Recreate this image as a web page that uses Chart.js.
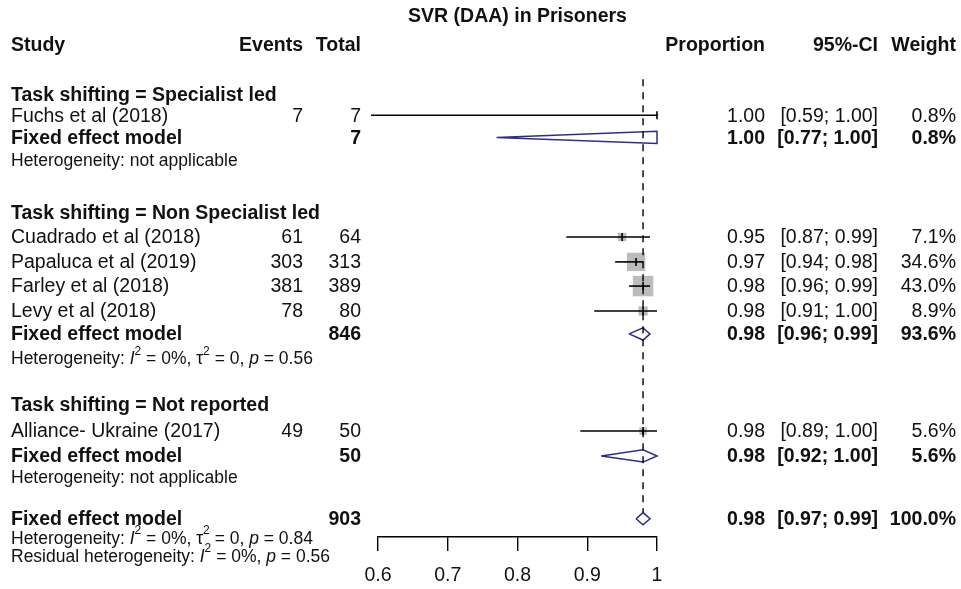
<!DOCTYPE html>
<html>
<head>
<meta charset="utf-8">
<script src="https://cdn.jsdelivr.net/npm/chart.js@4.4.1/dist/chart.umd.min.js"></script>
<style>
  html, body { margin: 0; padding: 0; background: #fff; }
  #wrap { width: 961px; height: 589px; }
</style>
</head>
<body>
<div id="wrap"><canvas id="forest" width="961" height="589"></canvas></div>
<script>
// ---- single studies ----
var studyNames  = ['Fuchs et al (2018)', 'Cuadrado et al (2018)', 'Papaluca et al (2019)',
                   'Farley et al (2018)', 'Levy et al (2018)', 'Alliance- Ukraine (2017)'];
var studyEvents = [7, 61, 303, 381, 78, 49];
var studyTotals = [7, 64, 313, 389, 80, 50];
var studyProp   = [1.00, 0.95, 0.97, 0.98, 0.98, 0.98];
var studyLower  = [0.59, 0.87, 0.94, 0.96, 0.91, 0.89];
var studyUpper  = [1.00, 0.99, 0.98, 0.99, 1.00, 1.00];
var studyWeight = [0.8, 7.1, 34.6, 43.0, 8.9, 5.6];
var studyRow    = [4.72, 9.71, 10.73, 11.72, 12.74, 17.66];

// ---- subgroups ----
var groupTitles = ['Task shifting = Specialist led', 'Task shifting = Non Specialist led',
                   'Task shifting = Not reported'];
var groupRow    = [3.89, 8.73, 16.59];

// ---- pooled estimates (3 subgroups + overall) ----
var pooledTotal  = [7, 846, 50, 903];
var pooledProp   = [1.00, 0.98, 0.98, 0.98];
var pooledLower  = [0.77, 0.96, 0.92, 0.97];
var pooledUpper  = [1.00, 0.99, 1.00, 0.99];
var pooledWeight = [0.8, 93.6, 5.6, 100.0];
var pooledRow    = [5.63, 13.68, 18.68, 21.25];

// ---- heterogeneity lines ----
var hetLabel = ['Heterogeneity', 'Heterogeneity', 'Heterogeneity', 'Heterogeneity', 'Residual heterogeneity'];
var hetI2    = [null, 0, null, 0, 0];
var hetTau2  = [null, 0, null, 0, null];
var hetP     = [null, 0.56, null, 0.84, 0.56];
var hetRow   = [6.58, 14.69, 19.56, 22.04, 22.78];

// ---- axis ----
var xTicks = [0.6, 0.7, 0.8, 0.9, 1];
var refLine = 0.98;   // overall fixed effect estimate

var FONT = "'Liberation Sans', Arial, sans-serif";
var INK = '#111';
var DIAMOND = '#2d2d86';
var HALF_H = 0.25;    // diamond half height, in rows

function boxSide(w) { return 20.5 * Math.sqrt(w / 43); }

var datasets = [];

// grey boxes, area ~ weight
datasets.push({
  data: studyProp.map(function (p, i) { return {x: p, y: studyRow[i]}; }),
  pointStyle: 'rect',
  pointRadius: studyWeight.map(function (w) { return boxSide(w) / Math.SQRT2; }),
  backgroundColor: '#bcbcbc',
  borderWidth: 0,
  clip: false,
  order: 5
});

// confidence intervals
studyNames.forEach(function (n, i) {
  datasets.push({
    data: [{x: studyLower[i], y: studyRow[i]}, {x: studyUpper[i], y: studyRow[i]}],
    showLine: true,
    borderColor: '#000',
    borderWidth: 1.6,
    pointRadius: 0,
    clip: false,
    order: 4
  });
});

// point estimate marks
datasets.push({
  data: studyProp.map(function (p, i) { return {x: p, y: studyRow[i]}; }),
  pointStyle: 'line',
  rotation: 90,
  pointRadius: 4,
  borderColor: '#000',
  borderWidth: 1.6,
  clip: false,
  order: 3
});

// pooled diamonds
pooledProp.forEach(function (p, i) {
  var r = pooledRow[i];
  datasets.push({
    data: [{x: pooledLower[i], y: r}, {x: p, y: r - HALF_H}, {x: pooledUpper[i], y: r},
           {x: p, y: r + HALF_H}, {x: pooledLower[i], y: r}],
    showLine: true,
    borderColor: DIAMOND,
    borderWidth: 1.5,
    pointRadius: 0,
    fill: false,
    clip: false,
    order: 2
  });
});

// dashed reference line at the overall estimate
datasets.push({
  data: [{x: refLine, y: 3.25}, {x: refLine, y: pooledRow[3] - HALF_H}],
  showLine: true,
  borderColor: '#000',
  borderWidth: 1.4,
  borderDash: [7, 6],
  pointRadius: 0,
  order: 1
});

function richText(ctx, segs, x, y, size) {
  var cx = x;
  ctx.textAlign = 'left';
  segs.forEach(function (s) {
    if (s[1] === 's') {
      ctx.font = Math.round(size * 0.7) + 'px ' + FONT;
      ctx.fillText(s[0], cx, y - size * 0.45);
    } else {
      ctx.font = (s[1] === 'i' ? 'italic ' : '') + size + 'px ' + FONT;
      ctx.fillText(s[0], cx, y);
    }
    cx += ctx.measureText(s[0]).width;
  });
}

function hetSegments(i) {
  if (hetI2[i] === null) return [[hetLabel[i] + ': not applicable', 'n']];
  var segs = [[hetLabel[i] + ': ', 'n'], ['I', 'i'], ['2', 's'], [' = ' + hetI2[i] + '%, ', 'n']];
  if (hetTau2[i] !== null) segs.push(['\u03c4', 'n'], ['2', 's'], [' = ' + hetTau2[i] + ', ', 'n']);
  segs.push(['p', 'i'], [' = ' + hetP[i].toFixed(2), 'n']);
  return segs;
}

function ciText(lo, hi) { return '[' + lo.toFixed(2) + '; ' + hi.toFixed(2) + ']'; }

// text columns of the forest plot
var tablePlugin = {
  id: 'forestTable',
  afterDraw: function (chart) {
    var ctx = chart.ctx;
    var ys = chart.scales.y;
    var area = chart.chartArea;
    var col = {study: 11, events: 303, total: 361, prop: 765, ci: 878, weight: 956};
    var size = 19.5, small = 17.5;
    function rowY(r) { return ys.getPixelForValue(r) + 1; }
    function put(t, x, r, align, bold, sz) {
      ctx.font = (bold ? 'bold ' : '') + (sz || size) + 'px ' + FONT;
      ctx.textAlign = align;
      ctx.fillText(t, x, rowY(r));
    }

    ctx.save();
    ctx.fillStyle = INK;
    ctx.textBaseline = 'middle';

    put('SVR (DAA) in Prisoners', (area.left + area.right) / 2, 0.62, 'center', true);
    put('Study', col.study, 1.83, 'left', true);
    put('Events', col.events, 1.83, 'right', true);
    put('Total', col.total, 1.83, 'right', true);
    put('Proportion', col.prop, 1.83, 'right', true);
    put('95%-CI', col.ci, 1.83, 'right', true);
    put('Weight', col.weight, 1.83, 'right', true);

    groupTitles.forEach(function (t, i) { put(t, col.study, groupRow[i], 'left', true); });

    studyNames.forEach(function (n, i) {
      var r = studyRow[i];
      put(n, col.study, r, 'left');
      put(String(studyEvents[i]), col.events, r, 'right');
      put(String(studyTotals[i]), col.total, r, 'right');
      put(studyProp[i].toFixed(2), col.prop, r, 'right');
      put(ciText(studyLower[i], studyUpper[i]), col.ci, r, 'right');
      put(studyWeight[i].toFixed(1) + '%', col.weight, r, 'right');
    });

    pooledRow.forEach(function (r, i) {
      put('Fixed effect model', col.study, r, 'left', true);
      put(String(pooledTotal[i]), col.total, r, 'right', true);
      put(pooledProp[i].toFixed(2), col.prop, r, 'right', true);
      put(ciText(pooledLower[i], pooledUpper[i]), col.ci, r, 'right', true);
      put(pooledWeight[i].toFixed(1) + '%', col.weight, r, 'right', true);
    });

    hetRow.forEach(function (r, i) {
      richText(ctx, hetSegments(i), col.study, rowY(r), small);
    });
    ctx.restore();
  }
};

new Chart(document.getElementById('forest'), {
  type: 'scatter',
  data: { datasets: datasets },
  options: {
    responsive: false,
    animation: false,
    events: [],
    layout: { autoPadding: false, padding: { left: 378, right: 304, top: 0, bottom: 0 } },
    plugins: { legend: { display: false }, tooltip: { enabled: false } },
    scales: {
      x: {
        type: 'linear',
        min: 0.6,
        max: 1,
        afterBuildTicks: function (scale) {
          scale.ticks = xTicks.map(function (v) { return {value: v}; });
        },
        afterFit: function (scale) { scale.height = 52; },
        ticks: {
          color: INK,
          padding: 13,
          maxRotation: 0,
          autoSkip: false,
          font: { family: FONT, size: 19.5 },
          callback: function (v) { return String(Number(v.toFixed(1))); }
        },
        grid: { drawOnChartArea: false, drawTicks: true, tickLength: 14, color: '#000', lineWidth: 1.4 },
        border: { display: true, color: '#000', width: 1.4 }
      },
      y: {
        type: 'linear',
        display: false,
        reverse: true,
        min: 0,
        max: 22
      }
    }
  },
  plugins: [tablePlugin]
});
</script>
</body>
</html>
